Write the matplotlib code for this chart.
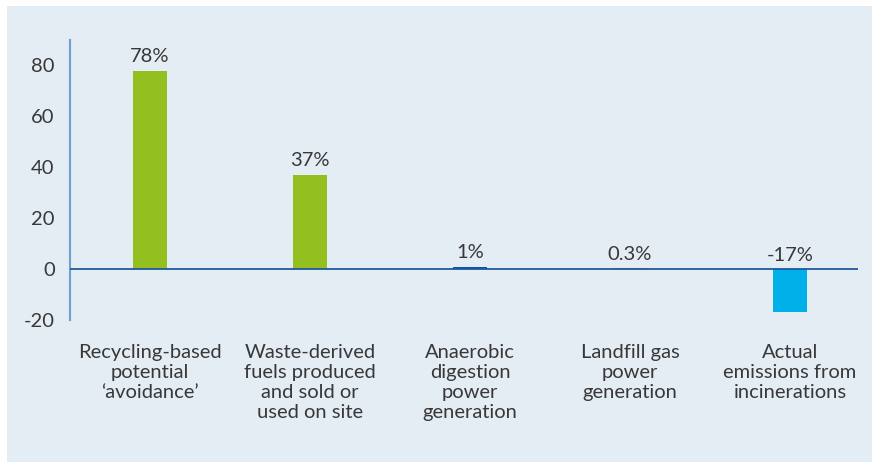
import matplotlib.pyplot as plt
from matplotlib.patches import Rectangle

categories = ["Recycling-based\npotential\n\u2018avoidance\u2019",
              "Waste-derived\nfuels produced\nand sold or\nused on site",
              "Anaerobic\ndigestion\npower\ngeneration",
              "Landfill gas\npower\ngeneration",
              "Actual\nemissions from\nincinerations"]
values = [78, 37, 1, 0.3, -17]
value_labels = ["78%", "37%", "1%", "0.3%", "-17%"]
colors = ["#93c01f", "#93c01f", "#0b56a0", "#93c01f", "#00b1e9"]
yticks = [-20, 0, 20, 40, 60, 80]

plt.rcParams['font.family'] = ['Lato', 'DejaVu Sans']
text_color = "#383838"
bg = "#e4ecf4"
fs = 14.5

fig = plt.figure(figsize=(8.72, 4.62), dpi=100)
fig.patch.set_facecolor("white")
fig.patches.append(Rectangle((7 / 872, 0), 865 / 872, 456 / 462, transform=fig.transFigure,
                             facecolor=bg, edgecolor="none", zorder=-10))

ax = fig.add_axes([70 / 872, 1 - 320 / 462, 788 / 872, 280 / 462])
ax.set_facecolor("none")
x = range(len(values))
ax.bar(x, values, width=0.21, color=colors, zorder=2)
ax.axhline(0, color="#1f5a9e", lw=1.3, zorder=3)

for i, (v, lab) in enumerate(zip(values, value_labels)):
    ax.annotate(lab, (i, max(v, 0)), xytext=(0, 4), textcoords="offset points",
                ha="center", va="bottom", fontsize=fs, color=text_color)

ax.set_xlim(-0.5, 4.425)
ax.set_ylim(-20, 90)
ax.set_yticks(yticks)
ax.set_yticklabels([str(t) for t in yticks], fontsize=fs, color=text_color)
ax.tick_params(axis="y", length=0, pad=11)
ax.set_xticks(list(x))
ax.set_xticklabels(categories, fontsize=fs, color=text_color, linespacing=1.22)
ax.tick_params(axis="x", length=0, pad=17)

for s in ["top", "right", "bottom"]:
    ax.spines[s].set_visible(False)
ax.spines["left"].set_color("#6fa0d2")
ax.spines["left"].set_linewidth(1.5)

fig.savefig("out.png", dpi=100, facecolor=fig.get_facecolor())
